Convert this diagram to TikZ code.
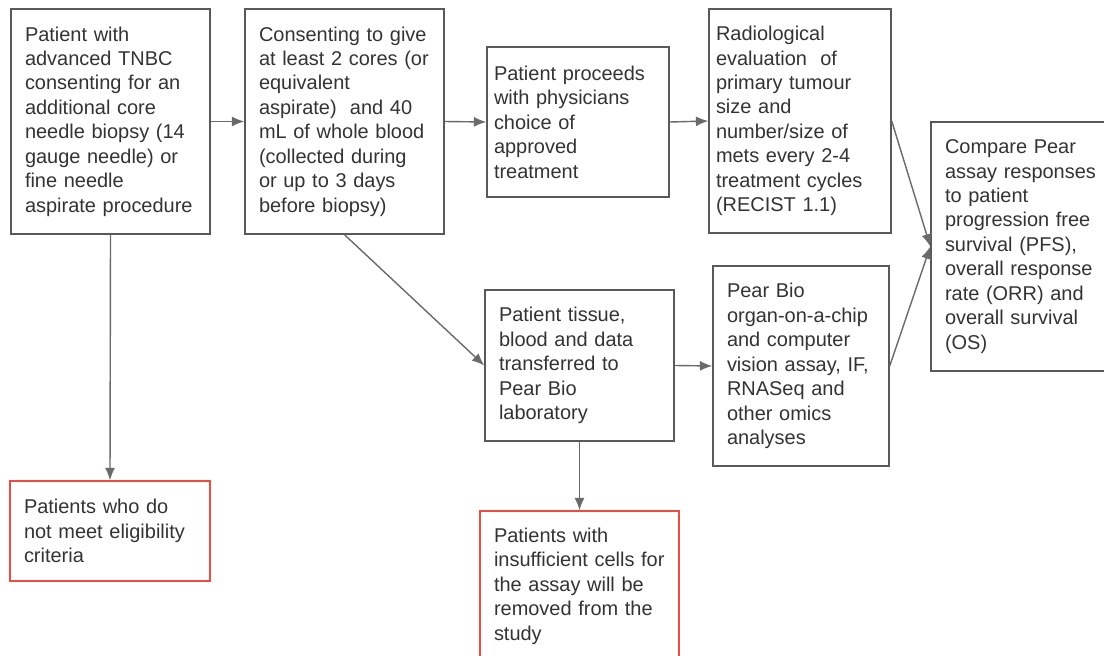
\documentclass[tikz,border=0pt]{standalone}
\usepackage{fontspec}
\setmainfont{Liberation Sans}
\usetikzlibrary{positioning, arrows.meta}
\definecolor{boxgray}{HTML}{595959}
\definecolor{linegray}{HTML}{6A6A6A}
\definecolor{exitred}{HTML}{EE4B42}
\definecolor{textgray}{HTML}{333333}

\begin{document}
\begin{tikzpicture}[
  stepbox/.style = {draw=boxgray, line width = 1pt, rectangle, align = left, inner xsep = 0.35cm, inner ysep = 0pt, text = textgray, font = \fontsize{14.2}{17.4}\selectfont},
  tightbox/.style = {stepbox, inner xsep = 0.175cm},
  exitbox/.style = {stepbox, draw=exitred},
  flow/.style = {draw=linegray, line width = 1pt, -{Latex[length=0.31cm, width=0.25cm]}}
]
%PICTURE SCOPE
\useasboundingbox (0, 0) rectangle (27.6, -16.4);
%%MAIN ROW
\node (enrol) [stepbox, text width = 4.275cm, minimum height = 5.625cm] at (2.7625, -3.0375) {Patient with\\ advanced TNBC\\ consenting for an\\ additional core\\ needle biopsy (14\\ gauge needle) or\\ fine needle\\ aspirate procedure};
\node (consent) [stepbox, text width = 4.275cm, minimum height = 5.625cm] at (8.6125, -3.0375) {Consenting to give\\ at least 2 cores (or\\ equivalent\\ aspirate)\ \ and 40\\ mL of whole blood\\ (collected during\\ or up to 3 days\\ before biopsy)};
\node (treat) [tightbox, text width = 4.2cm, minimum height = 3.75cm] at (14.45, -3.05) {Patient proceeds\\ with physicians\\ choice of\\ approved\\ treatment};
\node (radio) [tightbox, text width = 4.2cm, minimum height = 5.6cm] at (20.0, -3.025) {Radiological\\ evaluation\ \ of\\ primary tumour\\ size and\\ number/size of\\ mets every 2-4\\ treatment cycles\\ (RECIST 1.1)};
\node (compare) [stepbox, text width = 3.825cm, minimum height = 6.225cm] at (25.5375, -6.1625) {Compare Pear\\ assay responses\\ to patient\\ progression free\\ survival (PFS),\\ overall response\\ rate (ORR) and\\ overall survival\\ (OS)};
%%LAB ROW
\node (transfer) [stepbox, text width = 4.025cm, minimum height = 3.775cm] at (14.4875, -9.1375) {Patient tissue,\\ blood and data\\ transferred to\\ Pear Bio\\ laboratory};
\node (assay) [stepbox, text width = 3.7cm, minimum height = 5cm] at (20.025, -9.15) {Pear Bio\\ organ-on-a-chip\\ and computer\\ vision assay, IF,\\ RNASeq and\\ other omics\\ analyses};
%%EXITS
\node (ineligible) [exitbox, text width = 4.3cm, minimum height = 2.5cm] at (2.75, -13.275) {Patients who do\\ not meet eligibility\\ criteria};
\node (removed) [exitbox, text width = 4.275cm, minimum height = 3.75cm] at (14.4875, -14.65) {Patients with\\ insufficient cells for\\ the assay will be\\ removed from the\\ study};
%%CONNECTIONS
\draw [flow] (enrol.east) -- (consent.west);;
\draw [flow] (consent.east) -- (treat.west);;
\draw [flow] (treat.east) -- (radio.west);;
\draw [flow] (radio.east) -- (compare.west);;
%%INTERCONNECTIONS
\draw [flow] (consent.south) -- (transfer.west);;
\draw [flow] (transfer.east) -- (assay.west);;
\draw [flow] (assay.east) -- (compare.west);;
%%TO EXITS
\draw [flow] (enrol.south) -- (ineligible.north);;
\draw [flow] (transfer.south) -- (removed.north);;
\end{tikzpicture}
\end{document}
